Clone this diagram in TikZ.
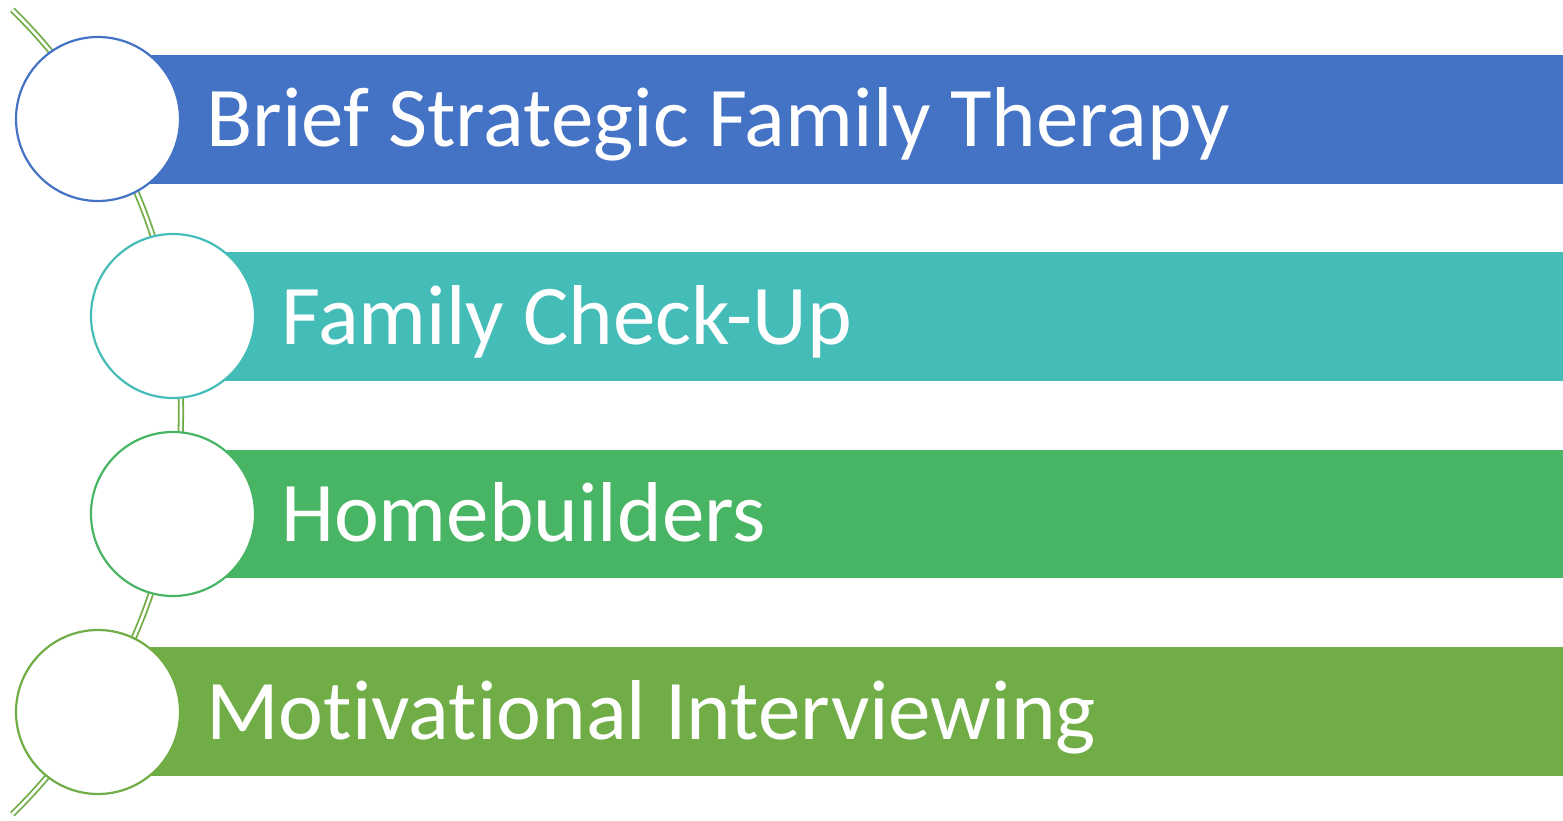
\documentclass[tikz,border=0pt]{standalone}
\usepackage{fontspec}
\setmainfont[RawFeature={-liga}]{Carlito}
\definecolor{cblue}{HTML}{4472C4}
\definecolor{cteal}{HTML}{44BDB9}
\definecolor{cgreen}{HTML}{47B563}
\definecolor{colive}{HTML}{70AD47}
\begin{document}
\begin{tikzpicture}[x=1pt,y=-1pt,
  ring/.style={circle, draw=#1, fill=white, line width=2.2pt, minimum size=164pt, inner sep=0pt},
  lbl/.style={anchor=base west, text=white, font=\fontsize{85}{100}\selectfont, inner sep=0pt}]
\useasboundingbox (0,0) rectangle (1563,821);
\clip (0,0) rectangle (1563,821);
% arc
\coordinate (c) at (-383,412);
\draw[colive, line width=1.8pt, double=white, double distance=2.6pt] (c) ++(45.5:564) coordinate (a0) arc[start angle=45.5, end angle=-45.5, radius=564] coordinate (a1);
% bars
\fill[cblue] (150,55) rectangle (1563,184);
\fill[cteal] (225,252) rectangle (1563,381);
\fill[cgreen] (225,450) rectangle (1563,578);
\fill[colive] (150,647) rectangle (1563,776);
% circles
\node[ring=cblue] (c1) at (98,119) {};
\node[ring=cteal] (c2) at (173,316) {};
\node[ring=cgreen] (c3) at (173,514) {};
\node[ring=colive] (c4) at (98,712) {};
% labels
\node[lbl] (t1) at (206,147) {Brief Strategic Family Therapy};
\node[lbl] (t2) at (281,344) {Family Check-Up};
\node[lbl] (t3) at (281,541) {Homebuilders};
\node[lbl] (t4) at (206,739) {Motivational Interviewing};
\end{tikzpicture}
\end{document}
